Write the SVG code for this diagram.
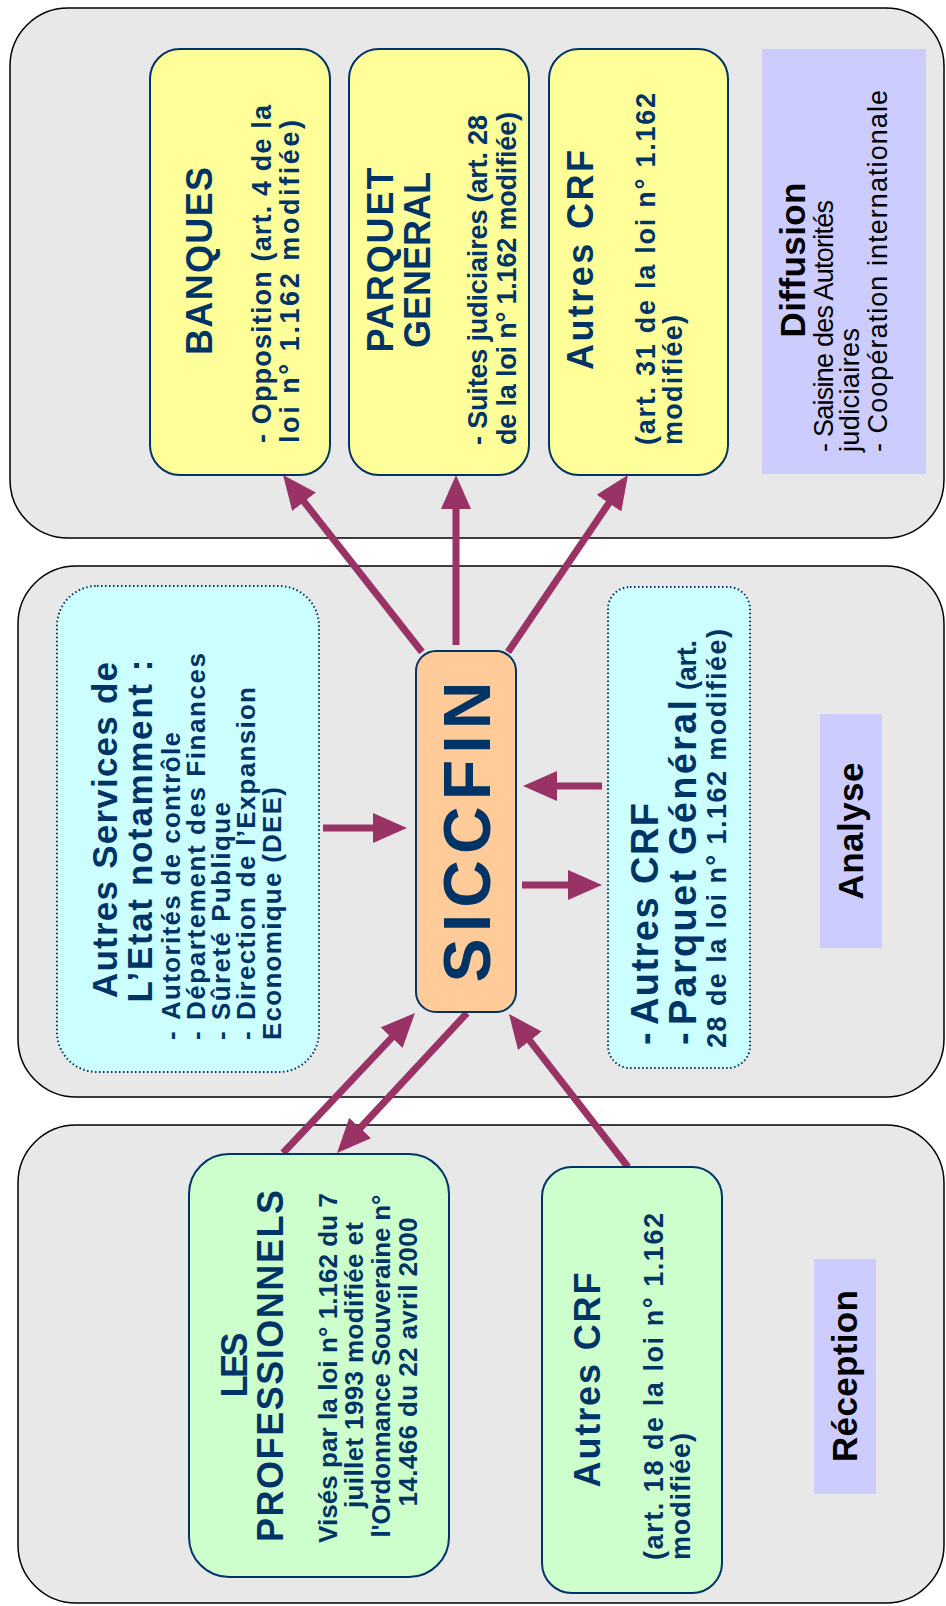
<svg xmlns="http://www.w3.org/2000/svg" width="946" height="1606" viewBox="0 0 946 1606">
<defs>
<style>
.panel{fill:#e8e8e8;stroke:#000;stroke-width:1.5}
.box{stroke:#003366;stroke-width:2}
.y{fill:#ffff99}
.g{fill:#ccffcc}
.o{fill:#ffcc99}
.cy{fill:#ccffff;stroke:#003366;stroke-width:2;stroke-dasharray:1.5 2.5}
.lb{fill:#ccccff}
text{font-family:"Liberation Sans",Arial,sans-serif;font-weight:bold;fill:#003366}
.h{font-size:36px}
.b{font-size:27px}
.s{font-size:26px}
.m{text-anchor:middle}
.k{fill:#000}
.r{font-weight:normal;font-size:27px}
.arr{stroke:#993366;stroke-width:7;fill:none;marker-end:url(#ah)}
</style>
<marker id="ah" markerUnits="userSpaceOnUse" viewBox="0 0 34 30" markerWidth="34" markerHeight="30" refX="2" refY="15" orient="auto">
<path d="M0,0 L34,15 L0,30 z" fill="#993366"/>
</marker>
</defs>
<rect width="946" height="1606" fill="#fff"/>
<g id="panels">
<rect id="panel-diffusion" class="panel" x="10" y="8" width="934" height="530" rx="58"/>
<rect id="panel-analyse" class="panel" x="18" y="566" width="926" height="531" rx="58"/>
<rect id="panel-reception" class="panel" x="18" y="1125" width="926" height="478" rx="58"/>
</g>
<g id="connectors">
<line class="arr" x1="422" y1="652" x2="302.8" y2="500.2"/>
<line class="arr" x1="456" y1="645" x2="456" y2="507"/>
<line class="arr" x1="508" y1="652" x2="610" y2="501.5"/>
<line class="arr" x1="602" y1="786" x2="555" y2="786"/>
<line class="arr" x1="522" y1="885" x2="570" y2="885"/>
<line class="arr" x1="323" y1="828" x2="375" y2="828"/>
<line class="arr" x1="283" y1="1153" x2="393" y2="1036.3"/>
<line class="arr" x1="467" y1="1013" x2="358.8" y2="1129.5"/>
<line class="arr" x1="628" y1="1167" x2="528.6" y2="1039.2"/>
</g>
<g id="banques">
<rect class="box y" x="150" y="49" width="180" height="426" rx="30"/>
<text class="h m" transform="translate(212,261) rotate(-90)" textLength="188">BANQUES</text>
<text class="b" transform="translate(271,443) rotate(-90)" textLength="338">- Opposition (art. 4 de la</text>
<text class="b" transform="translate(299,443) rotate(-90)" textLength="323">loi n° 1.162 modifiée)</text>
</g>
<g id="parquet-general">
<rect class="box y" x="349" y="49" width="180" height="426" rx="30"/>
<text class="h m" transform="translate(393,260) rotate(-90)" textLength="185">PARQUET</text>
<text class="h m" transform="translate(430,260) rotate(-90)" textLength="176">GENERAL</text>
<text class="b" transform="translate(487,445) rotate(-90)" textLength="330">- Suites judiciaires (art. 28</text>
<text class="b" transform="translate(516,445) rotate(-90)" textLength="333">de la loi n° 1.162 modifiée)</text>
</g>
<g id="autres-crf-diffusion">
<rect class="box y" x="549" y="49" width="179" height="426" rx="30"/>
<text class="h m" transform="translate(593,260) rotate(-90)" textLength="220">Autres CRF</text>
<text class="b" transform="translate(655,445) rotate(-90)" textLength="352">(art. 31 de la loi n° 1.162</text>
<text class="b" transform="translate(682,445) rotate(-90)" textLength="130">modifiée)</text>
</g>
<g id="label-diffusion">
<rect class="lb" x="762" y="49" width="164" height="425"/>
<text class="h m k" style="font-size:35px" transform="translate(805,260) rotate(-90)" textLength="155">Diffusion</text>
<text class="r k" transform="translate(833,452) rotate(-90)" textLength="252">- Saisine des Autorités</text>
<text class="r k" transform="translate(859,452) rotate(-90)" textLength="124">judiciaires</text>
<text class="r k" transform="translate(887,452) rotate(-90)" textLength="362">- Coopération internationale</text>
</g>
<g id="autres-services">
<rect class="cy" x="57" y="586" width="262" height="486" rx="40"/>
<text class="h m" style="font-size:35px" transform="translate(117,830) rotate(-90)" textLength="336">Autres Services de</text>
<text class="h m" style="font-size:35px" transform="translate(152,831) rotate(-90)" textLength="343">L’Etat notamment :</text>
<text class="s" transform="translate(180,1040) rotate(-90)">-</text>
<text class="s" transform="translate(180,1020) rotate(-90)" textLength="288">Autorités de contrôle</text>
<text class="s" transform="translate(205,1040) rotate(-90)">-</text>
<text class="s" transform="translate(205,1020) rotate(-90)" textLength="367">Département des Finances</text>
<text class="s" transform="translate(230,1040) rotate(-90)">-</text>
<text class="s" transform="translate(230,1020) rotate(-90)" textLength="218">Sûreté Publique</text>
<text class="s" transform="translate(255,1040) rotate(-90)">-</text>
<text class="s" transform="translate(255,1020) rotate(-90)" textLength="333">Direction de l’Expansion</text>
<text class="s" transform="translate(281,1040) rotate(-90)" textLength="253">Economique (DEE)</text>
</g>
<g id="siccfin">
<rect class="box o" x="416" y="651" width="100" height="361" rx="20"/>
<text class="m" style="font-size:66px" transform="translate(490,832) rotate(-90)" textLength="301">SICCFIN</text>
</g>
<g id="autres-crf-parquet">
<rect class="cy" x="608" y="587" width="142" height="481" rx="22"/>
<text style="font-size:38px" transform="translate(658,1045) rotate(-90)">-</text>
<text style="font-size:38px" transform="translate(658,1025) rotate(-90)" textLength="222">Autres CRF</text>
<text style="font-size:38px" transform="translate(696,1045) rotate(-90)">-</text>
<text style="font-size:38px" transform="translate(696,1025) rotate(-90)" textLength="325">Parquet Général</text>
<text class="b" transform="translate(696,690) rotate(-90)" textLength="50">(art.</text>
<text class="b" transform="translate(726,1048) rotate(-90)" textLength="419">28 de la loi n° 1.162 modifiée)</text>
</g>
<g id="label-analyse">
<rect class="lb" x="820" y="714" width="62" height="234"/>
<text class="h m k" style="font-size:35px" transform="translate(863,831) rotate(-90)" textLength="137">Analyse</text>
</g>
<g id="les-professionnels">
<rect class="box g" x="189" y="1154" width="260" height="423" rx="40"/>
<text class="h m" transform="translate(247,1365) rotate(-90)" textLength="65">LES</text>
<text class="h m" transform="translate(283,1366) rotate(-90)" textLength="352">PROFESSIONNELS</text>
<text class="s m" transform="translate(337,1368) rotate(-90)" textLength="350">Visés par la loi n° 1.162 du 7</text>
<text class="s m" transform="translate(363,1365) rotate(-90)" textLength="286">juillet 1993 modifiée et</text>
<text class="s m" transform="translate(390,1366) rotate(-90)" textLength="343">l'Ordonnance Souveraine n°</text>
<text class="s m" transform="translate(417,1362) rotate(-90)" textLength="289">14.466 du 22 avril 2000</text>
</g>
<g id="autres-crf-reception">
<rect class="box g" x="542" y="1167" width="180" height="426" rx="30"/>
<text class="h m" transform="translate(600,1380) rotate(-90)" textLength="215">Autres CRF</text>
<text class="b" transform="translate(663,1560) rotate(-90)" textLength="347">(art. 18 de la loi n° 1.162</text>
<text class="b" transform="translate(690,1560) rotate(-90)" textLength="127">modifiée)</text>
</g>
<g id="label-reception">
<rect class="lb" x="814" y="1259" width="62" height="235"/>
<text class="h m k" style="font-size:35px" transform="translate(857,1376) rotate(-90)" textLength="172">Réception</text>
</g>
</svg>
